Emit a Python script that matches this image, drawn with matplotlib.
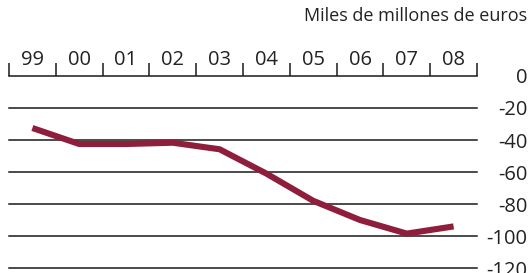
import matplotlib
matplotlib.use("Agg")
import matplotlib.pyplot as plt
import numpy as np

years = ["99", "00", "01", "02", "03", "04", "05", "06", "07", "08"]
values = [-32.5, -42.5, -42.5, -41.7, -45.8, -61, -78, -90, -98.5, -94]
yticks = [0, -20, -40, -60, -80, -100, -120]
ytick_labels = ["0", "-20", "-40", "-60", "-80", "-100", "-120"]
title = "Miles de millones de euros"

plt.rcParams['font.family'] = ['Open Sans', 'DejaVu Sans']

fig = plt.figure(figsize=(5.30, 2.73), dpi=100)
ax = fig.add_axes([9/530, 1 - 268/273, (477 - 9)/530, (268 - 76)/273])

x = np.arange(len(years)) + 0.5
ax.plot(x, values, color="#8E1E3C", lw=4.4, solid_joinstyle='miter', solid_capstyle='butt', zorder=3)

ax.set_xlim(0, len(years))
ax.set_ylim(-120, 0)

for v in yticks[1:]:
    ax.axhline(v, color="#1a1a1a", lw=1.1, zorder=2, clip_on=False)

for s in ["left", "right", "bottom"]:
    ax.spines[s].set_visible(False)
ax.spines["top"].set_color("#1a1a1a")
ax.spines["top"].set_linewidth(1.1)

ax.xaxis.tick_top()
ax.set_xticks(x)
ax.set_xticklabels(years, fontsize=14.5, color="#222222")
ax.set_xticks(np.arange(len(years) + 1), minor=True)
ax.tick_params(axis="x", which="major", length=0, pad=4)
ax.tick_params(axis="x", which="minor", length=9.4, width=1.1, direction="out", color="#1a1a1a")

ax.yaxis.tick_right()
ax.set_yticks(yticks)
ax.set_yticklabels(ytick_labels, fontsize=14.5, color="#222222", ha="right")
ax.tick_params(axis="y", length=0, pad=36.5)

fig.text(527/530, 1 - 16/273, title, ha="right", va="center", fontsize=13, color="#222222")

fig.savefig("out.png", dpi=100)
